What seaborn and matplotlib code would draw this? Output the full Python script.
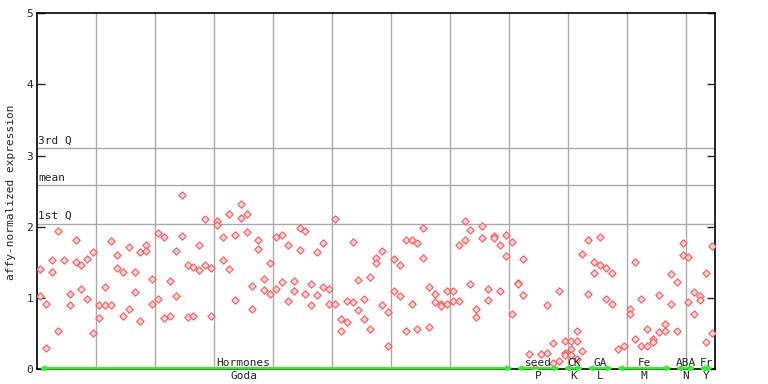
import numpy as np
import pandas as pd
import seaborn as sns
from matplotlib import pyplot as plt

# expression values per sample column (replicates)
hormones = [[1.40, 1.03], [0.92, 0.29], [1.53, 1.36], [1.94, 0.54], [1.53],
            [1.05, 0.90], [1.82, 1.51], [1.46, 1.13], [1.54, 0.98], [1.64, 0.51],
            [0.90, 0.71], [1.15, 0.90], [1.80, 0.90], [1.60, 1.42], [1.36, 0.75],
            [1.71, 0.85], [1.37, 1.08], [1.64, 0.67], [1.75, 1.66], [1.26, 0.92],
            [1.91, 0.99], [1.85, 0.71], [1.23, 0.74], [1.66, 1.02], [2.44, 1.87],
            [1.46, 0.73], [1.44, 0.74], [1.74, 1.39], [2.11, 1.46], [1.42, 0.75],
            [2.08, 2.03], [1.85, 1.53], [2.18, 1.40], [1.88, 0.97], [2.32, 2.12],
            [2.18, 1.92], [1.16, 0.84], [1.81, 1.68], [1.26, 1.11], [1.49, 1.05],
            [1.85, 1.12], [1.89, 1.22], [1.74, 0.95], [1.23, 1.09], [1.98, 1.67],
            [1.94, 1.05], [1.19, 0.90], [1.64, 1.04], [1.77, 1.15], [1.13, 0.91],
            [2.11, 0.91], [0.70, 0.54], [0.95, 0.66], [1.78, 0.94], [1.25, 0.83],
            [0.98, 0.70], [1.30, 0.56], [1.56, 1.49], [1.66, 0.90], [0.80, 0.33],
            [1.54, 1.09], [1.46, 1.02], [1.81, 0.53], [1.82, 0.92], [1.77, 0.56],
            [1.98, 1.56], [1.15, 0.59], [1.06, 0.94], [0.91, 0.89], [1.09, 0.91],
            [1.09, 0.95], [1.75, 0.95], [2.08, 1.81], [1.95, 1.19], [0.85, 0.73],
            [2.01, 1.84], [1.12, 0.97], [1.87, 1.84], [1.75, 1.09], [1.89, 1.59],
            [1.78, 0.77]]
seed = [[1.21, 1.19], [1.54, 1.04], [0.21], [0.02], [0.21], [0.90, 0.22],
        [0.36, 0.08], [1.09, 0.11]]
ck = [[0.39, 0.22, 0.19], [0.40, 0.28, 0.19], [0.54, 0.39, 0.14], [1.61, 0.25]]
ga = [[1.82, 1.05], [1.50, 1.35], [1.85, 1.46], [1.42, 0.98], [1.35, 0.91]]
fe = [[0.28], [0.33], [0.85, 0.77], [1.51, 0.42], [0.99, 0.33], [0.56, 0.33],
      [0.42, 0.38], [1.04, 0.52], [0.63, 0.54], [1.33, 0.92]]
aba = [[1.22, 0.54], [1.77, 1.60], [1.58, 0.94], [1.08, 0.77]]
fr = [[1.02, 0.97], [1.35, 0.38], [1.73, 0.50]]

group_names = ["Hormones", "seed", "CK", "GA", "Fe", "ABA", "Fr"]
group_codes = ["Goda", "P", "K", "L", "M", "N", "Y"]
groups = [hormones, seed, ck, ga, fe, aba, fr]

q1, mean, q3 = 2.04, 2.58, 3.10

rows = []
col = 0
bounds = []
for name, g in zip(group_names, groups):
    start = col
    for reps in g:
        for v in reps:
            rows.append((col + 0.5, v, name))
        col += 1
    bounds.append((start, col))
df = pd.DataFrame(rows, columns=["sample", "expr", "group"])
ncol = col

sns.set_style("white")
mono = "DejaVu Sans Mono"
plt.rcParams['font.family'] = [mono]

fig = plt.figure(figsize=(7.68, 3.84), dpi=100)
ax = fig.add_axes([37.3 / 768, 15 / 384, (715 - 37.3) / 768, (369 - 13.3) / 384])

for xg in range(10, ncol, 10):
    ax.axvline(xg, color="#aaaaaa", lw=1, zorder=1)
for yq, lab in [(q3, "3rd Q"), (mean, "mean"), (q1, "1st Q")]:
    ax.axhline(yq, color="#aaaaaa", lw=1, zorder=1)
    ax.text(0.2, yq + 0.04, lab, fontsize=8, family=mono, va="bottom", ha="left")

sns.scatterplot(data=df, x="sample", y="expr", ax=ax, marker="D", s=14,
                facecolor="#ffd6d6", edgecolor="#ff5a5a", linewidth=0.8,
                zorder=3, legend=False)

# group arrows and labels along the bottom
for (s, e), name, code in zip(bounds, group_names, group_codes):
    ax.annotate("", xy=(s + 0.3, 0.01), xytext=(e - 0.3, 0.01),
                arrowprops=dict(arrowstyle="<|-|>", color="#33ee33", lw=1.8,
                                mutation_scale=6, shrinkA=0, shrinkB=0),
                zorder=4, annotation_clip=False)
    mid = (s + e) / 2
    if name == "Hormones":
        mid = 35
    ax.text(mid, 0.02, name, fontsize=8, family=mono, ha="center", va="bottom")
    ax.text(mid, -0.03, code, fontsize=8, family=mono, ha="center", va="top")

ax.set_xlim(0, ncol)
ax.set_ylim(0, 5)
ax.set_yticks([0, 1, 2, 3, 4, 5])
ax.set_xticks([])
ax.tick_params(axis="y", direction="in", length=6, width=1, left=True,
               right=True, labelsize=8, pad=3)
for lab in ax.get_yticklabels():
    lab.set_family(mono)
ax.set_xlabel("")
ax.set_ylabel("")
for sp in ax.spines.values():
    sp.set_color("black")
    sp.set_linewidth(1.2)
fig.text(11 / 768, 0.5, "affy-normalized expression", rotation=90,
         fontsize=8, family=mono, ha="center", va="center")

plt.savefig("out.png", dpi=100)
